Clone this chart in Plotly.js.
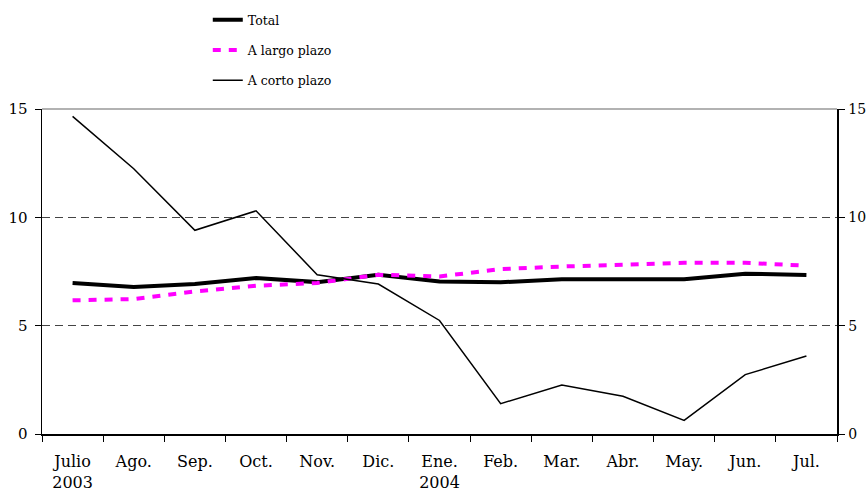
<!DOCTYPE html>
<html>
<head>
<meta charset="utf-8">
<script src="https://cdn.plot.ly/plotly-3.0.1.min.js"></script>
<style>
html,body{margin:0;padding:0;background:#fff;}
#chart{width:868px;height:491px;}
</style>
</head>
<body>
<div id="chart"></div>
<script>
const categories = ["Julio<br>2003","Ago.","Sep.","Oct.","Nov.","Dic.","Ene.<br>2004","Feb.","Mar.","Abr.","May.","Jun.","Jul."];
const total = [6.97, 6.78, 6.92, 7.20, 7.01, 7.35, 7.04, 7.00, 7.14, 7.14, 7.14, 7.40, 7.34];
const largoPlazo = [6.17, 6.23, 6.58, 6.84, 6.97, 7.35, 7.27, 7.61, 7.73, 7.81, 7.90, 7.90, 7.77];
const cortoPlazo = [14.66, 12.24, 9.40, 10.30, 7.35, 6.92, 5.24, 1.40, 2.26, 1.74, 0.63, 2.74, 3.60];
const yTicks = [0, 5, 10, 15];

const fontFam = "DejaVu Serif, Liberation Serif, serif";

const traces = [
  {x: categories, y: total, name: "Total", type: "scatter", mode: "lines",
   line: {color: "#000000", width: 4}, legendgroup: "a"},
  {x: categories, y: largoPlazo, name: "A largo plazo", type: "scatter", mode: "lines",
   line: {color: "#ff00ff", width: 4, dash: "8px,8px"}, legendgroup: "b"},
  {x: categories, y: cortoPlazo, name: "A corto plazo", type: "scatter", mode: "lines",
   line: {color: "#000000", width: 1.5}, legendgroup: "c", yaxis: "y2"}
];

const yCommon = {
  range: [0, 15], tickvals: yTicks, ticktext: yTicks.map(String),
  ticks: "outside", ticklen: 6, tickcolor: "#000", tickwidth: 1,
  showline: true, linecolor: "#000", linewidth: 1.5,
  zeroline: false, fixedrange: true,
  tickfont: {family: fontFam, size: 15, color: "#000"}
};

const layout = {
  width: 868, height: 491,
  margin: {l: 42, r: 31, t: 109, b: 57},
  paper_bgcolor: "#fff", plot_bgcolor: "#fff",
  font: {family: fontFam, color: "#000"},
  showlegend: true,
  legend: {
    x: 181/868, xanchor: "left", xref: "paper",
    y: 1 - 5/491, yref: "container", yanchor: "top",
    font: {family: fontFam, size: 12.5, color: "#000"},
    tracegroupgap: 11, bgcolor: "rgba(0,0,0,0)"
  },
  xaxis: {
    type: "category", tickson: "boundaries", range: [-0.5, 12.5],
    ticks: "outside", ticklen: 6, tickcolor: "#000",
    showline: true, linecolor: "#000", linewidth: 1.5,
    showgrid: false, zeroline: false, fixedrange: true,
    tickfont: {family: fontFam, size: 16, color: "#000"},
    tickangle: 0, ticklabelstandoff: 12
  },
  yaxis: Object.assign({}, yCommon, {
    side: "left", ticklabelstandoff: 4,
    showgrid: true, gridcolor: "#444", griddash: "8px,5px", gridwidth: 1
  }),
  yaxis2: Object.assign({}, yCommon, {
    side: "right", overlaying: "y", showgrid: false, ticklabelstandoff: 1,
    tickfont: {family: fontFam, size: 14, color: "#000"}
  }),
  shapes: [
    {type: "line", xref: "paper", yref: "paper", x0: 0, x1: 1, y0: 1, y1: 1,
     line: {color: "#999", width: 1.5}}
  ]
};

Plotly.newPlot("chart", traces, layout, {displayModeBar: false, staticPlot: true});
</script>
</body>
</html>
